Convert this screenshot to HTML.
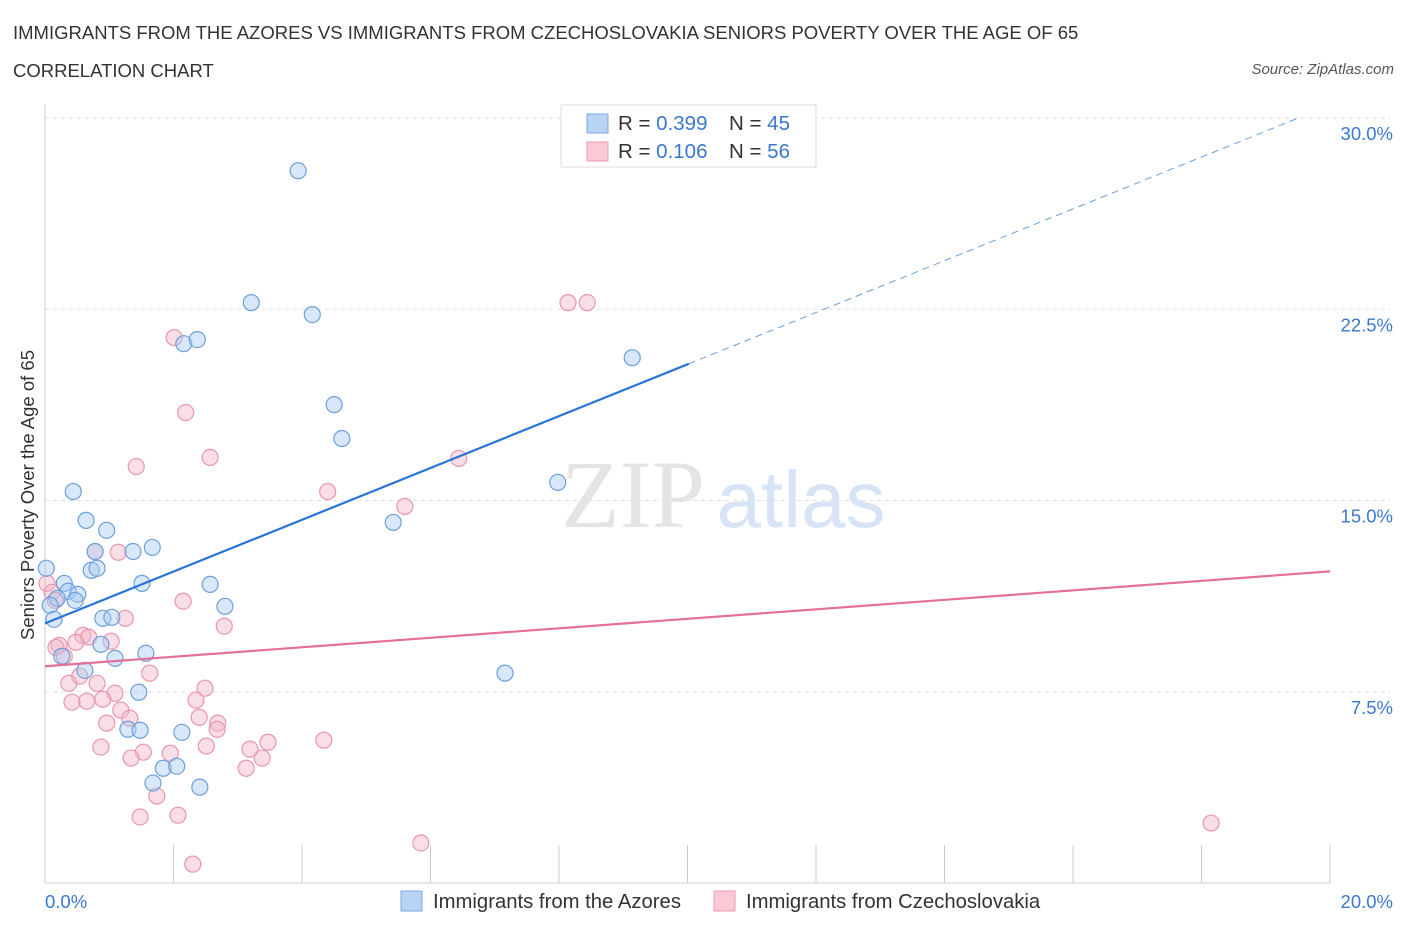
<!DOCTYPE html>
<html><head><meta charset="utf-8"><style>
body{margin:0;background:#fff;font-family:"Liberation Sans",sans-serif;}
#wrap{position:relative;width:1406px;height:930px;overflow:hidden;}
.t{position:absolute;white-space:nowrap;}
</style></head><body>
<div id="wrap">
<div class="t" style="left:13px;top:22px;font-size:18.5px;color:#333;">IMMIGRANTS FROM THE AZORES VS IMMIGRANTS FROM CZECHOSLOVAKIA SENIORS POVERTY OVER THE AGE OF 65</div>
<div class="t" style="left:13px;top:60px;font-size:18.5px;color:#333;">CORRELATION CHART</div>
<div class="t" style="right:12px;top:61px;font-size:15px;color:#555;font-style:italic;">Source: ZipAtlas.com</div>
<svg id="svg" width="1406" height="930" style="position:absolute;left:0;top:0"></svg>
</div>
<script>
const blueX=[3.94,3.21,4.16,2.16,2.37,9.14,4.50,4.62,7.98,0.44,5.42,0.64,0.96,1.67,0.78,1.37,0.02,0.72,0.81,0.30,1.51,2.57,0.36,0.51,0.19,0.47,0.08,2.80,0.14,0.90,1.04,0.87,0.26,1.09,1.57,0.62,7.16,1.46,1.29,1.48,2.13,1.84,2.05,1.68,2.41];
const blueY=[27.93,22.76,22.29,21.15,21.31,20.60,18.76,17.43,15.71,15.35,14.14,14.22,13.83,13.16,13.00,13.00,12.34,12.26,12.34,11.75,11.75,11.71,11.44,11.32,11.16,11.08,10.89,10.85,10.34,10.38,10.42,9.36,8.89,8.81,9.01,8.34,8.23,7.48,6.03,5.99,5.91,4.50,4.58,3.92,3.76];
const pinkX=[8.14,8.44,2.01,2.19,2.57,1.42,6.44,4.40,5.60,0.03,0.11,0.78,1.14,2.15,1.25,2.79,0.59,0.68,1.03,0.48,0.22,0.17,0.30,1.63,0.54,0.37,0.81,2.49,1.09,2.35,0.42,0.65,0.90,1.18,2.40,1.32,0.96,2.69,2.68,3.47,4.34,2.51,0.87,3.19,1.53,1.95,1.34,3.38,3.13,1.74,2.07,1.48,5.85,18.15,2.30,0.16];
const pinkY=[22.76,22.76,21.39,18.45,16.69,16.33,16.65,15.35,14.77,11.75,11.40,13.00,12.97,11.05,10.38,10.07,9.71,9.64,9.48,9.44,9.32,9.24,8.89,8.23,8.11,7.83,7.83,7.64,7.44,7.17,7.09,7.13,7.21,6.78,6.50,6.46,6.27,6.27,6.03,5.52,5.60,5.37,5.33,5.25,5.13,5.09,4.90,4.90,4.50,3.41,2.66,2.59,1.57,2.35,0.74,11.08];
const blueFit=[10.18,1.016];
const pinkFit=[8.50,0.186];
const yTicks=[7.5,15,22.5,30];
const yTickLabels=["7.5%","15.0%","22.5%","30.0%"];
const xTicks=[0,2,4,6,8,10,12,14,16,18,20];

const NS="http://www.w3.org/2000/svg";
const svg=document.getElementById('svg');
const X0=45,X1=1330,Y0=883,Y30=118;
const sx=v=>X0+v/20*(X1-X0);
const sy=v=>Y0-v/30*(Y0-Y30);
function el(tag,a,parent){const e=document.createElementNS(NS,tag);for(const k in a)e.setAttribute(k,a[k]);(parent||svg).appendChild(e);return e;}

yTicks.forEach((v,i)=>{
 const g=el('line',{x1:X0,x2:X1+60,y1:sy(v),y2:sy(v),stroke:'#ddd','stroke-dasharray':'4,4'});
 
 
 const t=el('text',{x:1393,y:sy(v)+22,'text-anchor':'end','font-size':18.5,fill:'#3a78d0','font-family':'Liberation Sans'});
 t.textContent=yTickLabels[i];
 
 
});
const ax=el('line',{x1:X0,x2:X1,y1:Y0,y2:Y0,stroke:'#ccc'});


const ay=el('line',{x1:X0,x2:X0,y1:105,y2:Y0,stroke:'#ccc'});


xTicks.forEach(v=>{
 const l=el('line',{x1:sx(v),x2:sx(v),y1:Y0,y2:845,stroke:'#ccc'});
 
 
});
[['0.0%',45,'start'],['20.0%',1393,'end']].forEach(a=>{
 const t=el('text',{x:a[1],y:908,'text-anchor':a[2],'font-size':18.5,fill:'#3a78d0','font-family':'Liberation Sans'});
 t.textContent=a[0];
 
 
});
const yt=el('text',{x:0,y:0,transform:'translate(34,495) rotate(-90)','text-anchor':'middle','font-size':18.5,fill:'#333','font-family':'Liberation Sans'});
yt.textContent='Seniors Poverty Over the Age of 65';


const w1=el('text',{x:633,y:527,'text-anchor':'middle','font-size':96,fill:'#e4e4e4','font-family':'Liberation Serif'});
w1.textContent='ZIP';


const w2=el('text',{x:801,y:527,'text-anchor':'middle','font-size':80,fill:'#d6e4f5','font-family':'Liberation Sans'});
w2.textContent='atlas';



function dots(xs,ys,fill,stroke,name){
 xs.forEach((x,i)=>{
  const c=el('circle',{cx:sx(x),cy:sy(ys[i]),r:8,fill:fill,'fill-opacity':0.45,stroke:stroke,'stroke-width':1.2});
  
  
 });
}
dots(pinkX,pinkY,'#f5b5c8','#e896ae','czechoslovakia-point');
dots(blueX,blueY,'#a9c9f2','#6c9fde','azores-point');

const bl=el('line',{x1:sx(0),y1:sy(blueFit[0]),x2:sx(10.02),y2:sy(blueFit[0]+blueFit[1]*10.02),stroke:'#2a74d8','stroke-width':2.2});


const xe=(30-blueFit[0])/blueFit[1];
const bd=el('line',{x1:sx(10.02),y1:sy(blueFit[0]+blueFit[1]*10.02),x2:sx(xe),y2:sy(30),stroke:'#6a9fdc','stroke-width':1,'stroke-dasharray':'7,5'});


const pl=el('line',{x1:sx(0),y1:sy(pinkFit[0]),x2:sx(20),y2:sy(pinkFit[0]+pinkFit[1]*20),stroke:'#e4709a','stroke-width':2.2});



const lg=el('rect',{x:561,y:105,width:255,height:62,fill:'#fff',stroke:'#ddd'});


[[123,'#b9d3f5','#7aa8e2','0.399','45'],[151,'#fbc8d6','#ee9ab2','0.106','56']].forEach((r,i)=>{
 const b=el('rect',{x:587,y:r[0]-9,width:21,height:19,fill:r[1],stroke:r[2]});
 
 
 const t=el('text',{x:618,y:r[0]+7,'font-size':20.5,fill:'#333','font-family':'Liberation Sans'});
 t.innerHTML='R = <tspan fill="#3a78d0">'+(i?' ':'')+r[3]+'</tspan><tspan x="729">N = </tspan><tspan fill="#3a78d0">'+r[4]+'</tspan>';
 
 
});
[[401,'#b9d3f5','#7aa8e2','Immigrants from the Azores'],[714,'#fbc8d6','#ee9ab2','Immigrants from Czechoslovakia']].forEach(r=>{
 const b=el('rect',{x:r[0],y:891,width:21,height:20,fill:r[1],stroke:r[2]});
 
 
 const t=el('text',{x:r[0]+32,y:908,'font-size':20.3,fill:'#333','font-family':'Liberation Sans'});
 t.textContent=r[3];
 
 
});
</script>
</body></html>
